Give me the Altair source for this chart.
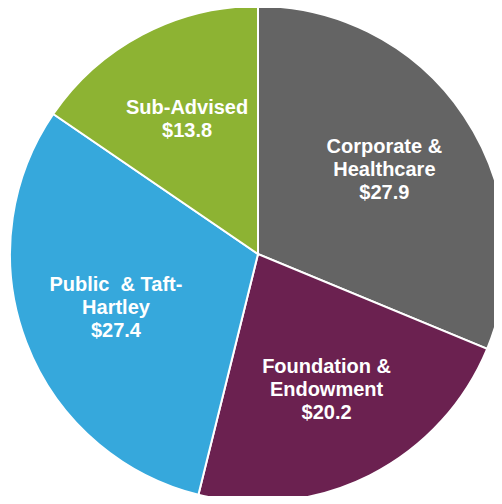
import altair as alt
import pandas as pd
import math

categories = ["Corporate &\nHealthcare", "Foundation &\nEndowment", "Public\u00a0\u00a0& Taft-\nHartley", "Sub-Advised"]
values = [27.9, 20.2, 27.4, 13.8]
colors = ["#646464", "#6B2150", "#36A8DC", "#8DB333"]

df = pd.DataFrame({
    "category": categories,
    "value": values,
    "idx": list(range(len(values))),
})
df["label"] = df["category"] + "\n$" + df["value"].map(lambda v: f"{v:.1f}")
df["nlines"] = df["label"].str.count("\n") + 1

LH = 23
CX, CY, R = 250, 246, 248

pie = alt.Chart(df).mark_arc(outerRadius=R, stroke="white", strokeWidth=2).encode(
    theta=alt.Theta("value:Q", stack=True),
    order=alt.Order("idx:Q"),
    color=alt.Color("category:N", scale=alt.Scale(domain=categories, range=colors), legend=None),
    x=alt.value(CX),
    y=alt.value(CY),
)

lab_base = alt.Chart(df).transform_joinaggregate(
    total="sum(value)"
).transform_window(
    cum="sum(value)", sort=[alt.SortField("idx")], frame=[None, 0]
).transform_calculate(
    mid="(datum.cum - datum.value / 2) / datum.total"
)

def label_layer(n):
    return lab_base.transform_filter(alt.datum.nlines == n).mark_text(
        radius=152,
        font="Liberation Sans",
        fontWeight="bold",
        fontSize=20,
        color="white",
        lineBreak="\n",
        lineHeight=LH,
        align="center",
        baseline="middle",
        dy=-LH * (n - 1) / 2,
    ).encode(
        theta=alt.Theta("mid:Q", scale=alt.Scale(domain=[0, 1], range=[0, 2 * math.pi])),
        text="label:N",
        x=alt.value(CX),
        y=alt.value(CY),
    )

chart = alt.layer(pie, label_layer(2), label_layer(3)).resolve_scale(
    theta="independent"
).properties(
    width=486, height=488,
    autosize=alt.AutoSizeParams(type="none"),
    padding=0,
).configure_view(stroke=None)

chart.save("out.html", embed_options={"renderer": "svg", "actions": False})
